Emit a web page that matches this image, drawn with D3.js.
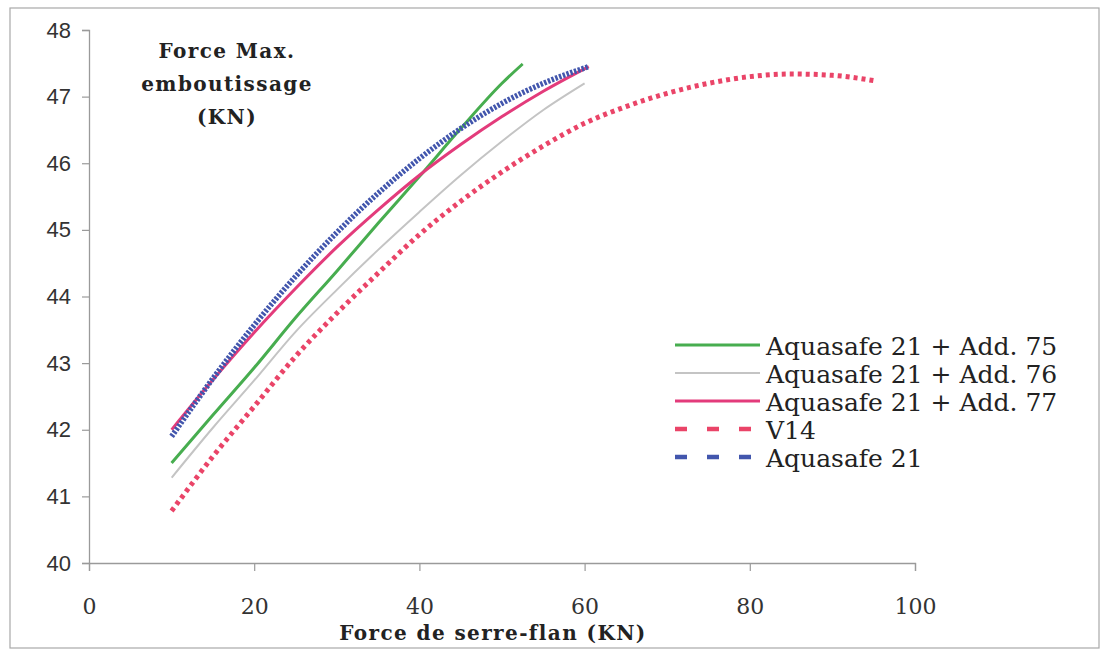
<!DOCTYPE html>
<html><head><meta charset="utf-8">
<script src="https://cdn.jsdelivr.net/npm/d3@7"></script>
<style>body{margin:0;background:#fff}svg{display:block}</style>
</head><body>
<script>
// ---- data ----
const xTicks = [0, 20, 40, 60, 80, 100];
const yTicks = [40, 41, 42, 43, 44, 45, 46, 47, 48];

const add75X = [10, 15, 20, 25, 30, 35, 40, 45, 50, 52.5];
const add75Y = [41.5, 42.22, 42.93, 43.68, 44.38, 45.1, 45.8, 46.52, 47.2, 47.49];

const add76X = [10, 15, 20, 25, 30, 35, 40, 45, 50, 55, 60];
const add76Y = [41.28, 42.03, 42.74, 43.47, 44.1, 44.7, 45.27, 45.82, 46.33, 46.8, 47.2];

const add77X = [10, 15, 20, 25, 30, 35, 40, 45, 50, 55, 60.5];
const add77Y = [42.0, 42.75, 43.46, 44.12, 44.74, 45.3, 45.82, 46.28, 46.7, 47.08, 47.45];

const v14X = [10, 15, 20, 25, 30, 35, 40, 45, 50, 55, 60, 65, 70, 75, 80, 85, 90, 95];
const v14Y = [40.78, 41.6, 42.35, 43.1, 43.75, 44.35, 44.93, 45.43, 45.87, 46.26, 46.6, 46.85, 47.05, 47.2, 47.3, 47.34, 47.32, 47.24];

const aqX = [10, 15, 20, 25, 30, 35, 40, 45, 50, 55, 60.5];
const aqY = [41.9, 42.77, 43.57, 44.3, 44.96, 45.55, 46.07, 46.52, 46.9, 47.2, 47.45];

const seriesNames = ["Aquasafe 21 + Add. 75", "Aquasafe 21 + Add. 76", "Aquasafe 21 + Add. 77", "V14", "Aquasafe 21"];

const series = [
  {name: seriesNames[0], xs: add75X, ys: add75Y, color: "#47ad4f", width: 3, dash: null, legDash: null},
  {name: seriesNames[1], xs: add76X, ys: add76Y, color: "#c4c4c4", width: 2, dash: null, legDash: null},
  {name: seriesNames[2], xs: add77X, ys: add77Y, color: "#e33b7b", width: 3, dash: null, legDash: null},
  {name: seriesNames[3], xs: v14X, ys: v14Y, color: "#ea4468", width: 5, dash: "4 4", legDash: "12 20"},
  {name: seriesNames[4], xs: aqX, ys: aqY, color: "#4256ad", width: 5.5, dash: "2.5 1.5", legDash: "12 20"}
];

// ---- drawing ----
const W = 1109, H = 651;
const svg = d3.select("body").append("svg").attr("width", W).attr("height", H);

svg.append("rect").attr("x", 10).attr("y", 8).attr("width", 1089).attr("height", 640)
  .attr("fill", "none").attr("stroke", "#a8a8a8").attr("stroke-width", 1.2);

const x = d3.scaleLinear().domain([0, 100]).range([89, 915]);
const y = d3.scaleLinear().domain([40, 48]).range([563, 30]);

const axisColor = "#9a9a9a";

const gx = svg.append("g").attr("transform", `translate(0,${y(40)})`)
  .call(d3.axisBottom(x).tickValues(xTicks).tickSize(8).tickPadding(27));
gx.select(".domain").attr("stroke", axisColor).attr("stroke-width", 1.3);
gx.selectAll(".tick line").attr("stroke", axisColor).attr("stroke-width", 1.2);
gx.selectAll(".tick text").attr("font-family", "DejaVu Serif").attr("font-size", 22).attr("fill", "#333");

const gy = svg.append("g").attr("transform", `translate(${x(0)},0)`)
  .call(d3.axisLeft(y).tickValues(yTicks).tickSize(7).tickPadding(11));
gy.select(".domain").attr("stroke", axisColor).attr("stroke-width", 1.3);
gy.selectAll(".tick line").attr("stroke", axisColor).attr("stroke-width", 1.2);
gy.selectAll(".tick text").attr("font-family", "Liberation Sans").attr("font-size", 22).attr("fill", "#333");

const line = d3.line().x(d => x(d[0])).y(d => y(d[1])).curve(d3.curveMonotoneX);

series.forEach(s => {
  const pts = s.xs.map((v, i) => [v, s.ys[i]]);
  const p = svg.append("path").datum(pts).attr("d", line)
    .attr("fill", "none").attr("stroke", s.color).attr("stroke-width", s.width);
  if (s.dash) p.attr("stroke-dasharray", s.dash);
});

// title
const title = svg.append("text").attr("font-family", "DejaVu Serif").attr("font-weight", "bold")
  .attr("font-size", 20).attr("letter-spacing", 1.4).attr("fill", "#222").attr("text-anchor", "middle");
["Force Max.", "emboutissage", "(KN)"].forEach((t, i) => {
  title.append("tspan").attr("x", 227).attr("y", 58 + i * 33).text(t);
});

// x-axis title
svg.append("text").attr("x", 493).attr("y", 640).attr("text-anchor", "middle")
  .attr("font-family", "DejaVu Serif").attr("font-weight", "bold").attr("font-size", 20)
  .attr("letter-spacing", 1.4).attr("fill", "#222").text("Force de serre-flan (KN)");

// legend
const legY = [345, 373, 401, 429, 457];
series.forEach((s, i) => {
  const l = svg.append("line").attr("x1", 675).attr("x2", 760).attr("y1", legY[i]).attr("y2", legY[i])
    .attr("stroke", s.color).attr("stroke-width", s.legDash ? 4.5 : s.width);
  if (s.legDash) l.attr("stroke-dasharray", s.legDash);
  svg.append("text").attr("x", 766).attr("y", legY[i] + 10).attr("font-family", "DejaVu Serif")
    .attr("font-size", 25).attr("fill", "#222").text(s.name);
});
</script>
</body></html>
